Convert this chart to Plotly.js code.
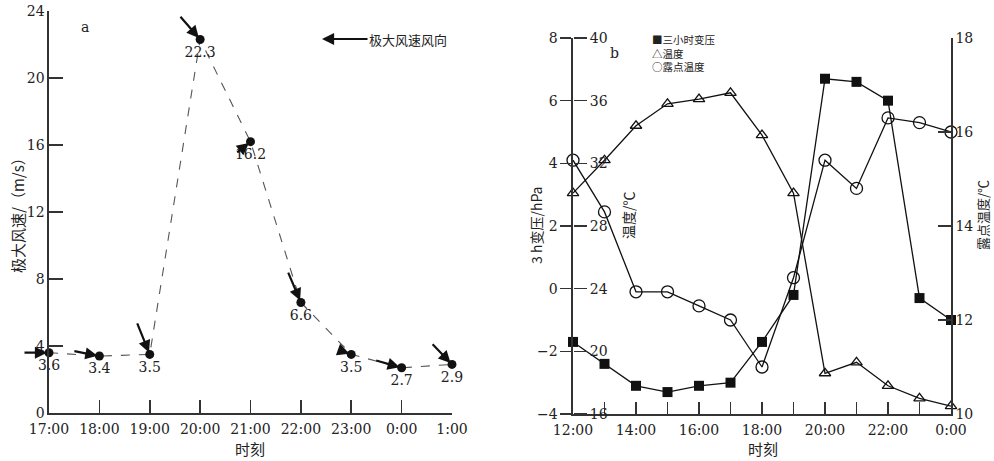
<!DOCTYPE html>
<html>
<head>
<meta charset="utf-8">
<script src="https://cdn.plot.ly/plotly-3.0.1.min.js"></script>
<style>html,body{margin:0;padding:0;background:#fff;}#chart{width:994px;height:461px;}</style>
</head>
<body>
<div id="chart"></div>
<script>
// ---- Data: panel a ----
const timesA = ["17:00","18:00","19:00","20:00","21:00","22:00","23:00","0:00","1:00"];
const windSpeed = [3.6, 3.4, 3.5, 22.3, 16.2, 6.6, 3.5, 2.7, 2.9];
const windFromDeg = [270, 281, 338, 319, 231, 337, 290, 286, 316];

// ---- Data: panel b ----
const hoursB = ["12:00","13:00","14:00","15:00","16:00","17:00","18:00","19:00","20:00","21:00","22:00","23:00","0:00"];
const pressure3h = [-1.7, -2.4, -3.1, -3.3, -3.1, -3.0, -1.7, -0.2, 6.7, 6.6, 6.0, -0.3, -1.0];
const temperature = [30.1, 32.2, 34.4, 35.8, 36.1, 36.5, 33.8, 30.1, 18.6, 19.3, 17.8, 17.0, 16.5];
const dewPoint = [15.4, 14.3, 12.6, 12.6, 12.3, 12.0, 11.0, 12.9, 15.4, 14.8, 16.3, 16.2, 16.0];
const legendB = ["■三小时变压", "△温度", "○露点温度"];

// ---- Style constants ----
const W = 994, H = 461;
const px = x => x / W;
const py = y => 1 - y / H;
const SERIF = "DejaVu Serif, Liberation Serif, Noto Sans CJK SC, serif";
const CJK = "Noto Sans CJK SC, DejaVu Serif, serif";
const INK = "#222";
const AXC = "#333";
const ARROW_LEN = [26, 27, 35, 32, 19, 34, 10, 28, 30];

const traces = [
  {
    x: timesA, y: windSpeed, xaxis: "x", yaxis: "y",
    type: "scatter", mode: "lines+markers+text",
    line: {color: "#555", width: 1.1, dash: "dash"},
    marker: {color: "#111", size: 9, symbol: "circle"},
    text: windSpeed.map(v => v.toFixed(1)),
    textposition: "bottom center",
    textfont: {family: SERIF, size: 14, color: INK},
    cliponaxis: false, showlegend: false, hoverinfo: "x+y"
  },
  {
    x: hoursB, y: pressure3h, xaxis: "x2", yaxis: "y2",
    type: "scatter", mode: "lines+markers",
    line: {color: "#111", width: 1.3},
    marker: {color: "#111", size: 10, symbol: "square"},
    cliponaxis: false, showlegend: false, name: "三小时变压"
  },
  {
    x: hoursB, y: temperature, xaxis: "x2", yaxis: "y3",
    type: "scatter", mode: "lines+markers",
    line: {color: "#111", width: 1.3},
    marker: {color: "#111", size: 10, symbol: "triangle-up-open", line: {width: 1.3, color: "#111"}},
    cliponaxis: false, showlegend: false, name: "温度"
  },
  {
    x: hoursB, y: dewPoint, xaxis: "x2", yaxis: "y4",
    type: "scatter", mode: "lines+markers",
    line: {color: "#111", width: 1.3},
    marker: {color: "#111", size: 12, symbol: "circle-open", line: {width: 1.3, color: "#111"}},
    cliponaxis: false, showlegend: false, name: "露点温度"
  }
];

const tickFont = {family: SERIF, size: 14, color: INK};
const baseAxis = {
  showgrid: false, zeroline: false, showline: true,
  linecolor: AXC, linewidth: 1.6, tickcolor: AXC, tickwidth: 1.6,
  tickfont: tickFont, fixedrange: true
};

const annotations = [];

// wind direction arrows
windSpeed.forEach((v, i) => {
  const b = windFromDeg[i] * Math.PI / 180;
  const L = ARROW_LEN[i];
  annotations.push({
    x: timesA[i], y: v, xref: "x", yref: "y", text: "",
    showarrow: true, arrowhead: 2, arrowsize: 1.1, arrowwidth: 2.2, arrowcolor: "#111",
    ax: L * Math.sin(b), ay: -L * Math.cos(b), standoff: 2
  });
});

// legend of panel a
annotations.push({
  x: px(322), y: py(39), xref: "paper", yref: "paper",
  text: "极大风速风向", font: {family: CJK, size: 13, color: INK},
  showarrow: true, arrowhead: 2, arrowsize: 1.1, arrowwidth: 2.2, arrowcolor: "#111",
  ax: 86, ay: 0
});

function label(x, y, text, font, extra) {
  annotations.push(Object.assign({
    x: px(x), y: py(y), xref: "paper", yref: "paper",
    xanchor: "center", yanchor: "middle",
    text: text, showarrow: false, font: font
  }, extra || {}));
}

// panel letters
label(85, 27, "a", {family: SERIF, size: 14, color: INK});
label(614, 53, "b", {family: SERIF, size: 14, color: INK});

// legend of panel b (one block of lines)
label(650, 53, legendB.join("<br>"), {family: CJK, size: 10.5, color: INK},
  {xanchor: "left", align: "left"});

// axis titles
const titleFont = {family: CJK, size: 15, color: INK};
const titleFont2 = {family: CJK, size: 14, color: INK};
label(17, 212, "极大风速/（m/s）", titleFont, {textangle: -90});
label(250, 448, "时刻", titleFont);
label(763, 448, "时刻", titleFont);
label(536, 226, "3 h变压/hPa", titleFont2, {textangle: -90});
label(628, 215, "温度/℃", titleFont2, {textangle: -90});
label(983, 215, "露点温度/℃", {family: CJK, size: 13, color: INK}, {textangle: -90});

const layout = {
  width: W, height: H,
  margin: {l: 0, r: 0, t: 0, b: 0, pad: 0},
  paper_bgcolor: "#fff", plot_bgcolor: "rgba(0,0,0,0)",
  showlegend: false,
  xaxis: Object.assign({}, baseAxis, {
    domain: [px(49), px(452)], anchor: "y", type: "category",
    categoryarray: timesA, range: [0, timesA.length - 1],
    ticks: "inside", ticklen: 13, ticklabelstandoff: 3
  }),
  yaxis: Object.assign({}, baseAxis, {
    domain: [py(413), py(11)], anchor: "x", range: [0, 24], dtick: 4,
    ticks: "inside", ticklen: 14
  }),
  xaxis2: Object.assign({}, baseAxis, {
    domain: [px(573), px(951)], anchor: "y2", type: "category",
    categoryarray: hoursB, range: [0, hoursB.length - 1],
    tickmode: "array", tickvals: hoursB,
    ticktext: hoursB.map((h, i) => (i % 2 === 0 ? h : "")),
    ticks: "inside", ticklen: 12, ticklabelstandoff: 3
  }),
  yaxis2: Object.assign({}, baseAxis, {
    domain: [py(414), py(38)], anchor: "x2", range: [-4, 8], dtick: 2,
    ticks: "outside", ticklen: 11, side: "left"
  }),
  yaxis3: Object.assign({}, baseAxis, {
    overlaying: "y2", anchor: "free", position: px(573), side: "right",
    range: [16, 40], dtick: 4, showline: false,
    ticks: "outside", ticklen: 13
  }),
  yaxis4: Object.assign({}, baseAxis, {
    overlaying: "y2", anchor: "x2", side: "right",
    range: [10, 18], dtick: 2,
    ticks: "inside", ticklen: 13, ticklabelstandoff: 0
  }),
  annotations: annotations
};

Plotly.newPlot("chart", traces, layout, {displayModeBar: false, staticPlot: true});
</script>
</body>
</html>
